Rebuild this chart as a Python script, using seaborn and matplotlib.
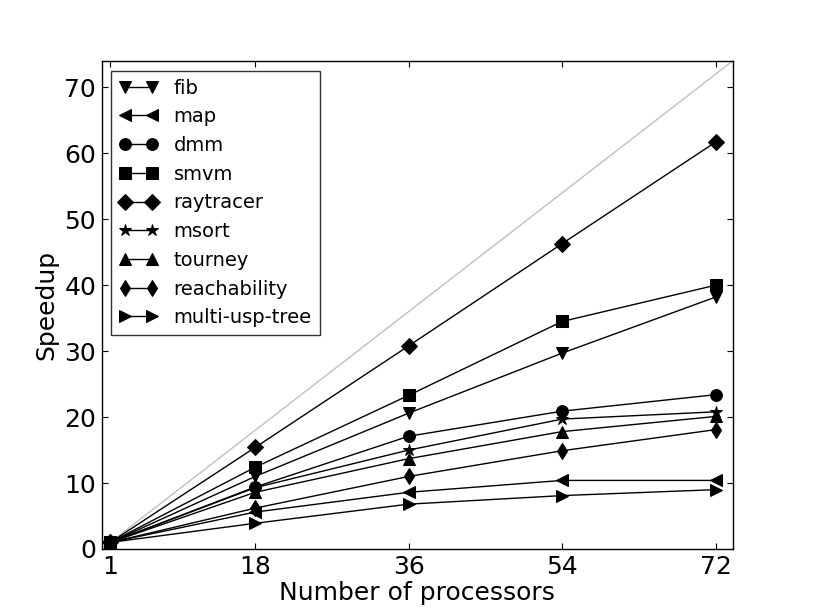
import matplotlib
matplotlib.use("Agg")
import matplotlib.pyplot as plt
import seaborn as sns
import pandas as pd

processors = [1, 18, 36, 54, 72]
x_ticks = [1, 18, 36, 54, 72]
y_ticks = [0, 10, 20, 30, 40, 50, 60, 70]

fib = [1.0, 11.0, 20.6, 29.7, 38.2]
map_ = [1.0, 5.6, 8.6, 10.4, 10.4]
dmm = [1.0, 9.4, 17.1, 20.9, 23.4]
smvm = [1.0, 12.4, 23.3, 34.5, 40.0]
raytracer = [1.0, 15.4, 30.8, 46.3, 61.7]
msort = [1.0, 9.3, 15.0, 19.7, 20.8]
tourney = [1.0, 8.6, 13.7, 17.8, 20.1]
reachability = [1.0, 6.2, 11.0, 14.9, 18.1]
multi_usp_tree = [1.0, 3.9, 6.8, 8.1, 9.0]

series_names = ["fib", "map", "dmm", "smvm", "raytracer", "msort",
                "tourney", "reachability", "multi-usp-tree"]
series_values = [fib, map_, dmm, smvm, raytracer, msort,
                 tourney, reachability, multi_usp_tree]
markers = ["v", "<", "o", "s", "D", "*", "^", "d", ">"]

sns.set_style("ticks")
plt.rcParams['font.family'] = ['DejaVu Sans']
plt.rcParams.update({
    "xtick.direction": "in", "ytick.direction": "in",
    "xtick.top": True, "ytick.right": True,
    "xtick.major.size": 4, "ytick.major.size": 4,
    "xtick.major.width": 0.8, "ytick.major.width": 0.8,
    "xtick.color": "black", "ytick.color": "black",
    "xtick.labelcolor": "black", "ytick.labelcolor": "black",
    "axes.labelcolor": "black", "text.color": "black",
    "axes.edgecolor": "black", "axes.linewidth": 1.0,
})

fig = plt.figure(figsize=(8.14, 6.10), dpi=100)
ax = fig.add_axes([0.125, 0.1, 0.775, 0.8])

ax.axline((0, 0), slope=1, color="#c0c0c0", linewidth=1.0, zorder=1)

for name, vals, mk in zip(series_names, series_values, markers):
    df = pd.DataFrame({"x": processors, "y": vals})
    ms = 9 if mk == "*" else 8.5
    sns.lineplot(data=df, x="x", y="y", ax=ax, color="black", linewidth=1.0,
                 marker=mk, markersize=ms, markeredgecolor="black",
                 markerfacecolor="black", label=name, zorder=3)

ax.set_xlim(0, 74)
ax.set_ylim(0, 74)
ax.set_xticks(x_ticks)
ax.set_yticks(y_ticks)
ax.tick_params(labelsize=18, pad=4)
ax.set_xlabel("Number of processors", fontsize=18, labelpad=2)
ax.set_ylabel("Speedup", fontsize=18, labelpad=4)

leg = ax.legend(loc="upper left", numpoints=2, fontsize=14, frameon=True,
                fancybox=False, shadow=False, borderaxespad=0.5,
                handlelength=2.0, labelspacing=0.5, borderpad=0.4)
leg.get_frame().set_edgecolor("black")
leg.get_frame().set_linewidth(1.0)

fig.savefig("out.png", dpi=100)
